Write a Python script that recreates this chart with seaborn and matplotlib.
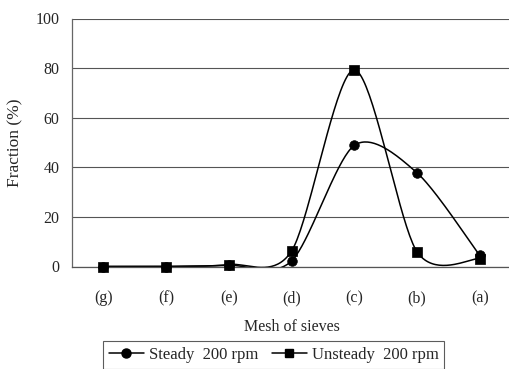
import numpy as np
import pandas as pd
import matplotlib
matplotlib.use("Agg")
import matplotlib.pyplot as plt
from matplotlib.lines import Line2D
import seaborn as sns

categories = ["(g)", "(f)", "(e)", "(d)", "(c)", "(b)", "(a)"]
steady = [0.0, 0.0, 0.5, 2.2, 48.8, 37.8, 4.5]
unsteady = [0.0, 0.0, 0.8, 6.2, 79.3, 6.0, 3.2]
series_names = ["Steady  200 rpm", "Unsteady  200 rpm"]
yticks = [0, 20, 40, 60, 80, 100]


def smooth(xv, yv, n=40, k=7.0):
    """Excel-style smoothed line (Bezier with Catmull-Rom-like control points)."""
    P = np.column_stack([xv, yv]).astype(float)
    out = []
    m = len(P)
    for i in range(m - 1):
        p0 = P[i - 1] if i > 0 else P[i]
        p1 = P[i]
        p2 = P[i + 1]
        p3 = P[i + 2] if i + 2 < m else P[i + 1]
        c1 = p1 + (p2 - p0) / k
        c2 = p2 - (p3 - p1) / k
        t = np.linspace(0, 1, n)[:, None]
        seg = ((1 - t) ** 3) * p1 + 3 * ((1 - t) ** 2) * t * c1 + 3 * (1 - t) * t ** 2 * c2 + t ** 3 * p2
        out.append(seg if i == 0 else seg[1:])
    s = np.vstack(out)
    return s[:, 0], s[:, 1]


sns.set_style("white")
plt.rcParams["font.family"] = ["Liberation Serif", "DejaVu Serif"]

fig = plt.figure(figsize=(5.09, 3.69), dpi=100)
ax = fig.add_axes([72 / 509, 1 - 266.5 / 369, 439 / 509, 248 / 369])

xi = np.arange(len(categories))
for vals, mk in [(steady, "o"), (unsteady, "s")]:
    sx, sy = smooth(xi, vals)
    sns.lineplot(x=sx, y=sy, ax=ax, color="black", lw=1.1, sort=False,
                 estimator=None, legend=False)
    sns.scatterplot(x=xi, y=vals, ax=ax, marker=mk, color="black", s=48,
                    edgecolor="black", linewidth=0.5, legend=False, zorder=5,
                    clip_on=False)

ax.set_xlim(-0.5, len(categories) - 0.5)
ax.set_ylim(0, 100)
ax.set_yticks(yticks)
ax.set_yticklabels([str(v) for v in yticks], fontsize=11.5)
ax.set_xticks(xi)
ax.set_xticklabels(categories, fontsize=11.5)
ax.tick_params(axis="x", length=0, pad=17)
ax.tick_params(axis="y", length=0, pad=9)
ax.yaxis.grid(True, color="#555555", lw=0.8)
ax.xaxis.grid(False)
for side in ["top", "right"]:
    ax.spines[side].set_visible(False)
ax.spines["left"].set_color("#666666")
ax.spines["left"].set_linestyle((0, (1, 1)))
ax.spines["left"].set_linewidth(0.9)
ax.spines["bottom"].set_color("#555555")
ax.spines["bottom"].set_linewidth(0.9)

ax.set_ylabel("Fraction (%)", fontsize=12.5, labelpad=9)
ax.set_xlabel("Mesh of sieves", fontsize=11.5, labelpad=9)

handles = [
    Line2D([0], [0], color="black", lw=1.1, marker="o", markersize=6.5),
    Line2D([0], [0], color="black", lw=1.1, marker="s", markersize=6),
]
leg = fig.legend(handles, series_names, loc="upper left",
                 bbox_to_anchor=(103 / 509, 1 - 341 / 369), ncol=2,
                 frameon=True, fancybox=False, edgecolor="#333333",
                 fontsize=12, handlelength=2.1, handletextpad=0.3,
                 columnspacing=0.8, borderpad=0.35, borderaxespad=0)
leg.get_frame().set_linewidth(0.8)

fig.savefig("out.png", dpi=100)
